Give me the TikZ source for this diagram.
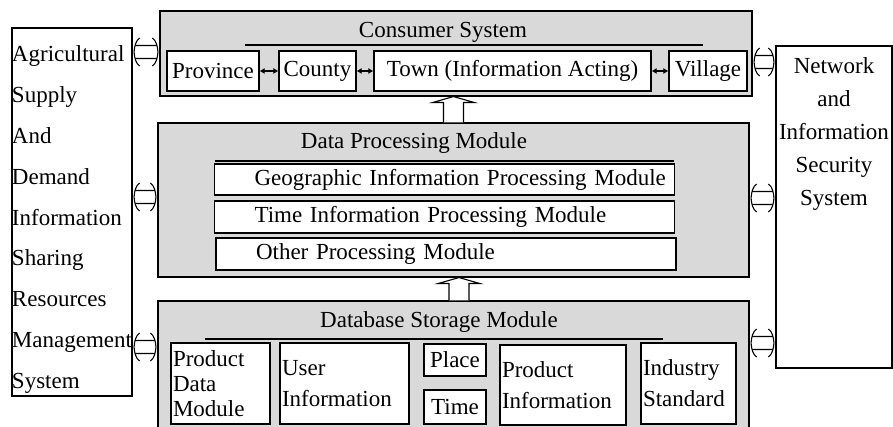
\documentclass[tikz,border=0pt]{standalone}
\usepackage{fontspec}
\setmainfont{Liberation Serif}
\usetikzlibrary{arrows.meta, calc, positioning}

\begin{document}
\begin{tikzpicture}[
        x=1pt, y=-1pt,
        font=\fontsize{23}{31}\selectfont,
        box/.style={draw, rectangle, line width=1.1pt, inner sep=0pt, fill=white},
        panel/.style={box, fill=black!15},
        unit/.style={box, minimum height=40pt},
        modbox/.style={box, minimum height=32pt, text width=380pt, inner xsep=40pt, align=left},
        dbbox/.style={box, minimum height=81pt, align=left, inner xsep=2pt},
        twoway/.style={line width=1.1pt,
            to path={let \p1=(\tikztostart), \p2=(\tikztotarget) in
                (\x1+2.5pt,\y1+6.5pt) -- (\x2-2.5pt,\y1+6.5pt)
                (\x1+2.5pt,\y1-6.5pt) -- (\x2-2.5pt,\y1-6.5pt)
                (\x1+7pt,\y1+14pt) .. controls (\x1+3pt,\y1+11pt) and (\x1+2pt,\y1+6pt) .. (\x1+1.5pt,\y1)
                .. controls (\x1+2pt,\y1-6pt) and (\x1+3pt,\y1-11pt) .. (\x1+7pt,\y1-14pt)
                (\x2-7pt,\y1+14pt) .. controls (\x2-3pt,\y1+11pt) and (\x2-2pt,\y1+6pt) .. (\x2-1.5pt,\y1)
                .. controls (\x2-2pt,\y1-6pt) and (\x2-3pt,\y1-11pt) .. (\x2-7pt,\y1-14pt)}},
        linkarr/.style={line width=1.2pt, {Latex[length=5pt,width=6pt]}-{Latex[length=5pt,width=6pt]}},
        uparrow/.style={line width=1.1pt, fill=white,
            to path={let \p1=(\tikztostart), \p2=(\tikztotarget) in
                (\x1-10pt,\y1) -- (\x1-10pt,\y2-6pt) -- (\x1-21pt,\y2-6pt) -- (\x1,\y2)
                -- (\x1+21pt,\y2-6pt) -- (\x1+10pt,\y2-6pt) -- (\x1+10pt,\y1)}}
    ]
        \path[use as bounding box, clip] (0,0) rectangle (893,427);

        % Outer systems
        \node[box] (share) at (72,212) {\parbox[c][368pt][t]{120pt}{\fontsize{23}{40.8}\selectfont\vspace*{18pt}Agricultural\\Supply\\And\\Demand\\Information\\Sharing\\Resources\\Management\\System}};
        \node[box] (net) at (834,207) {\parbox[c][322pt][t]{116pt}{\fontsize{23}{33}\selectfont\centering\vspace*{12pt}Network\\and\\Information\\Security\\System}};

        % Consumer system
        \node[panel, minimum width=592pt, minimum height=85pt] (cons) at (456,53.5) {};
        \node (constitle) at (443,32) {Consumer System};
        \draw[line width=1.1pt] (245,45) -- (703,45);
        \node[unit, minimum width=92pt] (prov) at (213,71) {Province};
        \node[unit, minimum width=77pt] (county) at (317.5,71) {County};
        \node[unit, minimum width=277pt] (town) at (512.5,71) {Town (Information Acting)};
        \node[unit, minimum width=78pt] (village) at (708,71) {Village};
        \draw[linkarr] (prov) -- (county);
        \draw[linkarr] (county) -- (town);
        \draw[linkarr] (town) -- (village);

        % Data processing
        \node[panel, minimum width=591pt, minimum height=154pt] (data) at (453.5,200) {};
        \node (datatitle) at (414,143) {Data Processing Module};
        \draw[line width=1.1pt] (215,161) -- (674,161);
        \node[modbox, minimum height=31pt] (geoproc) at (444.5,179.5) {\mbox{Geographic Information Processing Module}};
        \node[modbox] (timeproc) at (444.5,217) {\mbox{Time Information Processing Module}};
        \node[modbox] (otherproc) at (446,254) {\mbox{Other Processing Module}};

        % Database storage
        \node[panel, minimum width=591pt, minimum height=139pt] (db) at (453.5,370.5) {};
        \node (dbtitle) at (439,322) {Database Storage Module};
        \draw[line width=1.1pt] (205,339) -- (663,339);
        \node[dbbox, minimum width=99pt, text width=95pt, font=\fontsize{23}{25}\selectfont] (pdm) at (220.5,383.5) {Product\\Data\\Module};
        \node[dbbox, minimum width=129pt, text width=125pt] (user) at (344.5,383.5) {User\\Information};
        \node[box, minimum width=62pt, minimum height=32pt] (place) at (455,360) {Place};
        \node[box, minimum width=62pt, minimum height=34pt] (timebox) at (455,407) {Time};
        \node[dbbox, minimum width=126pt, text width=122pt, minimum height=80pt] (pinfo) at (563,385) {Product\\Information};
        \node[dbbox, minimum width=95pt, text width=91pt] (indstd) at (688.5,383.5) {Industry\\Standard};

        % Flow between layers
        \draw[uparrow] (data.north -| 453.5,0) to (cons.south -| 453.5,0);
        \draw[uparrow] (db.north -| 459,0) to (data.south -| 459,0);

        % Links to the side systems
        \draw[twoway] (share.east |- 0,52) to (cons.west |- 0,52);
        \draw[twoway] (share.east |- 0,197) to (data.west |- 0,197);
        \draw[twoway] (share.east |- 0,347) to (db.west |- 0,347);
        \draw[twoway] (cons.east |- 0,62) to (net.west |- 0,62);
        \draw[twoway] (data.east |- 0,198) to (net.west |- 0,198);
        \draw[twoway] (db.east |- 0,343) to (net.west |- 0,343);
    \end{tikzpicture}
\end{document}
